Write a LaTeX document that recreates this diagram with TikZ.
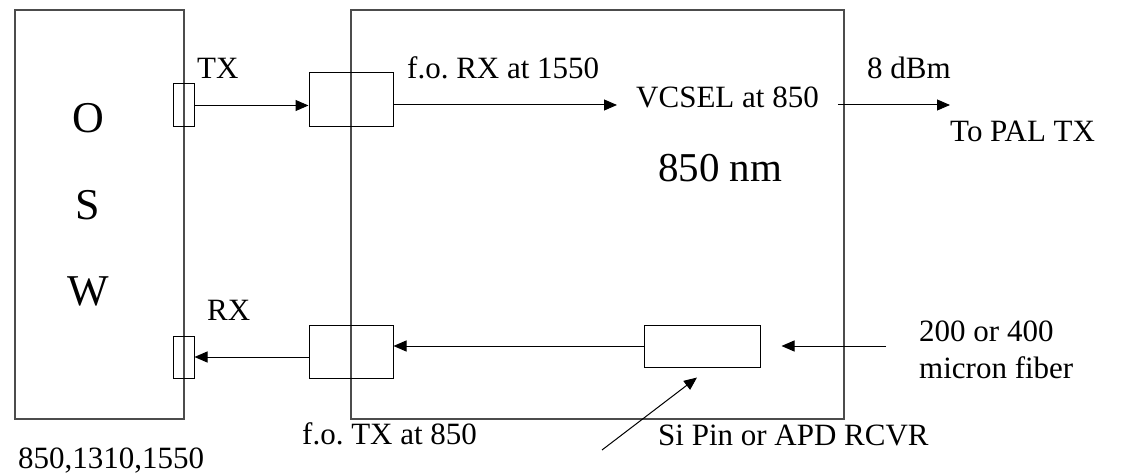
\documentclass[tikz,border=0pt]{standalone}
\usepackage{fontspec}
\setmainfont{Liberation Serif}
\usetikzlibrary{arrows.meta}

\begin{document}
\begin{tikzpicture}[x=1pt, y=-1pt,
	unit/.style={rectangle, draw=black!70, line width=1.5pt, inner sep=0pt},
	port/.style={rectangle, draw=black, line width=1pt, inner sep=0pt},
	lbl/.style={font=\fontsize{31}{37}\selectfont, inner sep=0pt, anchor=base west},
	big/.style={font=\fontsize{44}{52}\selectfont, inner sep=0pt, anchor=base},
	arrow/.style={line width=1pt, -{Triangle[length=13pt, width=11pt]}}]
	
	\useasboundingbox (0,0) rectangle (1124,473);
	
	\node (osw) [unit, minimum width=169pt, minimum height=409pt] at (99.5,214.5) {};
	\node (module) [unit, minimum width=493pt, minimum height=409pt] at (597.5,214.5) {};
	\node (txport) [port, minimum width=21pt, minimum height=43pt] at (183.5,105.5) {};
	\node (rxport) [port, minimum width=21pt, minimum height=42pt] at (183.5,357) {};
	\node (rxconv) [port, minimum width=84pt, minimum height=54pt] at (351,100) {};
	\node (txconv) [port, minimum width=84pt, minimum height=53pt] at (351,351.5) {};
	\node (rcvr) [port, minimum width=116pt, minimum height=42pt] at (702,346) {};
	
	\node (letO) [big] at (88,133) {O};
	\node (letS) [big] at (88,219) {S};
	\node (letW) [big] at (88,305) {W};
	\node (nm) [lbl, font=\fontsize{41}{49}\selectfont] at (658,182) {850 nm};
	
	\node (txlbl) [lbl] at (197,79) {TX};
	\node (rxlbl) [lbl] at (207,320) {RX};
	\node (folbl) [lbl] at (407,79) {f.o.\ RX at 1550};
	\node (vcsel) [lbl, anchor=mid west, inner xsep=19pt] at (617,105) {VCSEL at 850};
	\node (dbm) [lbl] at (867,79) {8 dBm};
	\node (pal) [lbl] at (950,142) {To PAL TX};
	\node (fibtop) [lbl] at (919,341) {200 or 400};
	\node (fibbot) [lbl] at (919,378) {micron fiber};
	\node (ftlbl) [lbl] at (302,444) {f.o.\ TX at 850};
	\node (sipin) [lbl] at (658,445) {Si Pin or APD RCVR};
	\node (wavel) [lbl] at (18,468) {850,1310,1550};
	
	\coordinate (fiberin) at (886,346);
	\coordinate (ptr) at (602,450);
	
	\draw [arrow] (txport.east) -- (txport.east -| rxconv.west);
	\draw [arrow] (rxconv.east |- vcsel.mid west) -- (vcsel.mid west);
	\draw [arrow] (vcsel.mid east) -- (vcsel.mid east -| pal.west);
	\draw [arrow] (fiberin) -- ([xshift=21pt]rcvr.east);
	\draw [arrow] (rcvr.west) -- (rcvr.west -| txconv.east);
	\draw [arrow] (rxport.east -| txconv.west) -- (rxport.east);
	\draw [arrow] (ptr) -- ([xshift=-5pt, yshift=-10pt]rcvr.south);
\end{tikzpicture}
\end{document}
